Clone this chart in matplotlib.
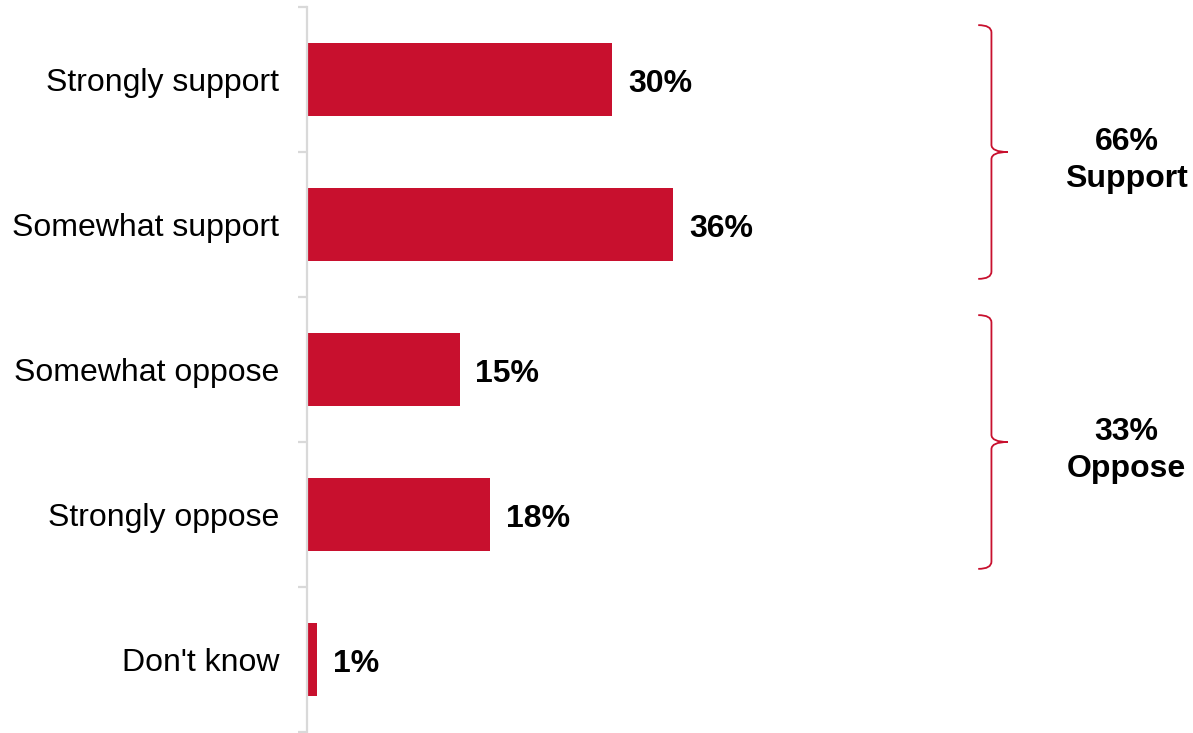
import matplotlib
matplotlib.use("Agg")
import matplotlib.pyplot as plt
from matplotlib.path import Path
from matplotlib.patches import PathPatch
import numpy as np

categories = ["Strongly support", "Somewhat support", "Somewhat oppose", "Strongly oppose", "Don't know"]
values = [30, 36, 15, 18, 1]
value_labels = ["30%", "36%", "15%", "18%", "1%"]
group_labels = ["66%\nSupport", "33%\nOppose"]
group_spans = [(0, 1), (2, 3)]

RED = "#C8102E"
GRAY = "#D9D9D9"
plt.rcParams['font.family'] = ['Liberation Sans', 'DejaVu Sans']

W, H = 1193, 733
fig = plt.figure(figsize=(W / 100, H / 100), dpi=100)
px_per_unit = 10.17
ax = fig.add_axes([307 / W, 1 / H, (W - 307) / W, 725 / H])
ax.set_xlim(0, (W - 307) / px_per_unit)
ax.set_ylim(len(categories) - 0.5, -0.5)

y = np.arange(len(categories))
ax.barh(y, values, height=0.5, color=RED, zorder=2)
for yi, v, lab in zip(y, values, value_labels):
    ax.text(v + 1.55, yi + 0.03, lab, va="center", ha="left", fontsize=23, fontweight="bold", color="black")

for s in ["top", "right", "bottom"]:
    ax.spines[s].set_visible(False)
ax.spines["left"].set_color(GRAY)
ax.spines["left"].set_linewidth(1.6)
ax.set_xticks([])
ax.set_yticks(y)
ax.set_yticklabels(categories, fontsize=23)
ax.tick_params(axis="y", which="major", length=0, pad=20)
ax.set_yticks(np.arange(-0.5, len(categories), 1.0), minor=True)
ax.tick_params(axis="y", which="minor", length=6.5, width=1.6, color=GRAY)

# braces
xl, xm, xt = 66.0, 67.3, 68.9
for (a, b), lab in zip(group_spans, group_labels):
    top, bot = a - 0.375, b + 0.375
    mid = (top + bot) / 2
    verts = [(xl, top), (xm, top), (xm, top + 0.05),
             (xm, mid - 0.05), (xm, mid), (xt, mid),
             (xm, mid), (xm, mid + 0.05),
             (xm, bot - 0.05), (xm, bot), (xl, bot)]
    codes = [Path.MOVETO, Path.CURVE3, Path.CURVE3,
             Path.LINETO, Path.CURVE3, Path.CURVE3,
             Path.CURVE3, Path.CURVE3,
             Path.LINETO, Path.CURVE3, Path.CURVE3]
    ax.add_patch(PathPatch(Path(verts, codes), fill=False, edgecolor=RED, linewidth=1.3, clip_on=False))
    ax.text(80.6, mid + 0.06, lab, ha="center", va="center", fontsize=23, fontweight="bold",
            linespacing=1.3, color="black")

fig.savefig("out.png", dpi=100)
